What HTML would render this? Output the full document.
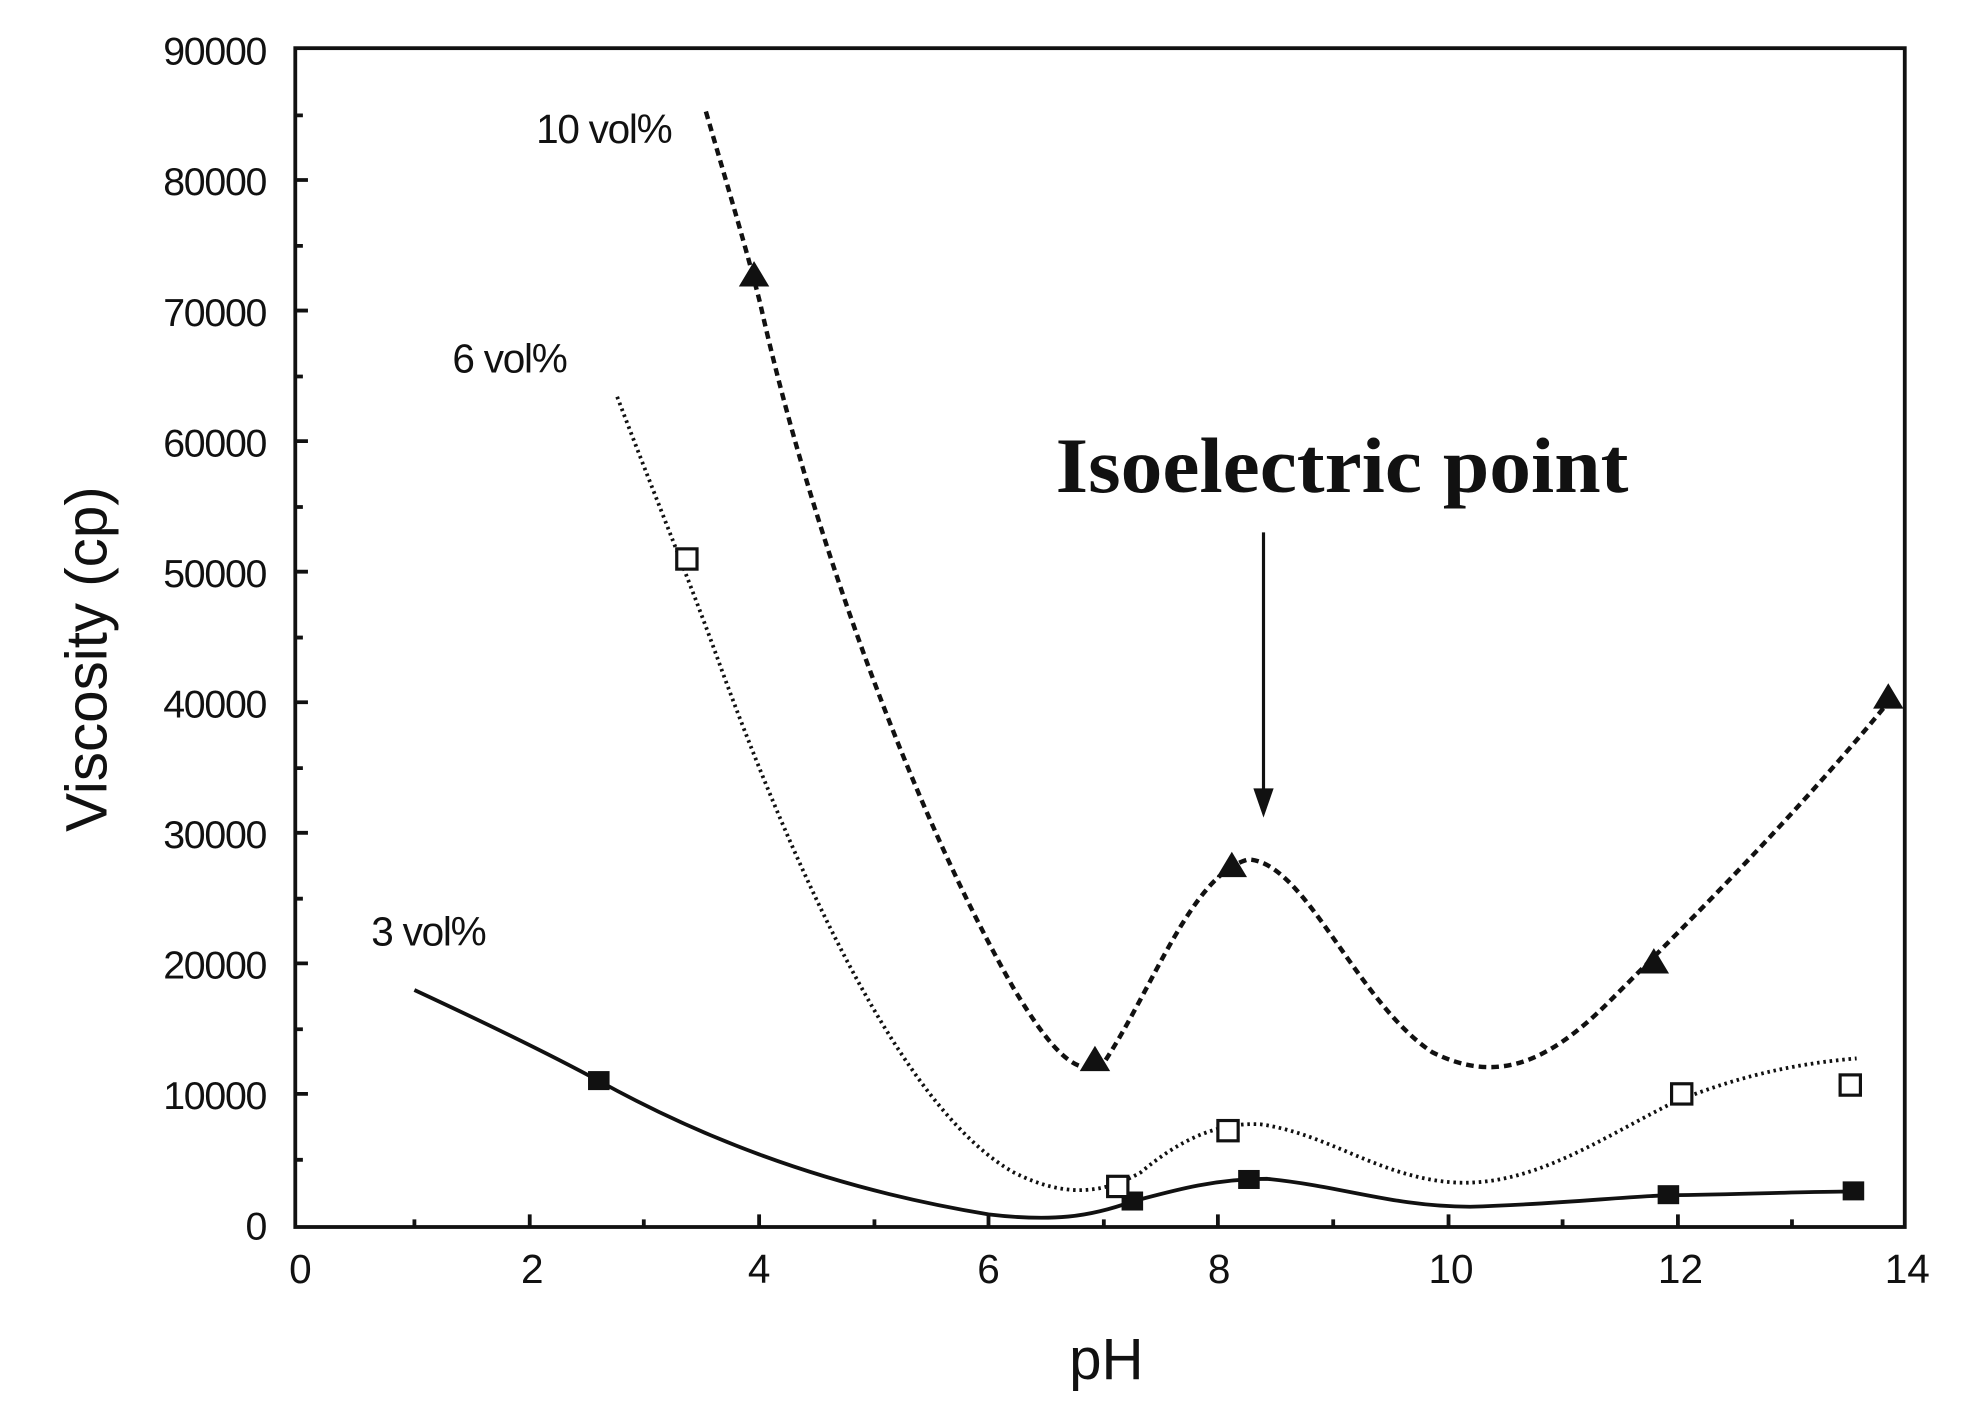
<!DOCTYPE html>
<html><head><style>html,body{margin:0;padding:0;background:#fff}svg{display:block}</style></head>
<body>
<svg width="1977" height="1407" viewBox="0 0 1560 1110" preserveAspectRatio="none" xmlns="http://www.w3.org/2000/svg" font-family="Liberation Sans, Arial, sans-serif">
<rect width="1560" height="1110" fill="#fff"/>
<rect x="233" y="38" width="1270" height="930" fill="none" stroke="#111" stroke-width="3"/>
<g fill="#111" font-size="31" text-anchor="end" letter-spacing="-1">
<text x="210" y="51">90000</text><text x="210" y="154">80000</text><text x="210" y="257">70000</text>
<text x="210" y="360">60000</text><text x="210" y="463">50000</text><text x="210" y="566">40000</text>
<text x="210" y="669">30000</text><text x="210" y="772">20000</text><text x="210" y="875">10000</text>
<text x="210" y="978">0</text>
</g>
<g stroke="#111" stroke-width="3">
<path d="M233 142h10M233 245h10M233 348h10M233 451h10M233 554h10M233 657h10M233 760h10M233 863h10M233 91h6M233 194h6M233 297h6M233 400h6M233 503h6M233 606h6M233 709h6M233 812h6M233 915h6"/>
<path d="M418 968v-10M599 968v-10M780 968v-10M961 968v-10M1143 968v-10M1324 968v-10M327 968v-6M508 968v-6M690 968v-6M871 968v-6M1052 968v-6M1233 968v-6M1414 968v-6"/>
</g>
<g fill="#111" font-size="32" text-anchor="middle">
<text x="237" y="1012">0</text><text x="420" y="1012">2</text><text x="599" y="1012">4</text><text x="780" y="1012">6</text>
<text x="962" y="1012">8</text><text x="1145" y="1012">10</text><text x="1326" y="1012">12</text><text x="1505" y="1012">14</text>
</g>
<text x="873" y="1088" font-size="46" text-anchor="middle" fill="#111">pH</text>
<text transform="translate(84,520) rotate(-90)" font-size="46" text-anchor="middle" fill="#111">Viscosity (cp)</text>
<g font-size="32" fill="#111" letter-spacing="-1">
<text x="423" y="113">10 vol%</text><text x="357" y="294">6 vol%</text><text x="293" y="746">3 vol%</text>
</g>
<text x="833" y="388" font-family="Liberation Serif, serif" font-weight="bold" font-size="62" textLength="452" lengthAdjust="spacingAndGlyphs" fill="#111">Isoelectric point</text>
<line x1="997" y1="420" x2="997" y2="630" stroke="#111" stroke-width="2.5"/>
<path d="M989 622 L997 645 L1005 622 Z" fill="#111"/>
<g fill="none" stroke="#111">
<path d="M557 88 C575 150 590 200 600 240 C640 420 720 640 800 780 C830 830 850 850 870 840 C910 780 940 690 985 678 C1030 680 1070 790 1130 830 C1180 855 1220 840 1270 790 C1340 720 1420 640 1495 548" stroke-width="3.5" stroke-dasharray="6,4"/>
<path d="M487 313 C520 400 545 460 570 530 C640 720 720 880 800 925 C840 945 870 942 900 925 C930 900 960 885 995 887 C1050 895 1090 930 1150 933 C1210 935 1260 900 1320 870 C1380 845 1430 838 1465 835" stroke-width="3" stroke-dasharray="2,3"/>
<path d="M327 781 C400 815 440 835 473 853 C540 890 640 935 780 958 C830 964 860 960 893 948 C930 938 960 930 1000 930 C1060 936 1100 952 1160 952 C1230 950 1280 944 1316 943 C1380 942 1430 940 1462 940" stroke-width="3"/>
</g>
<g fill="#111">
<path d="M595 206 L607 226 L583 226Z"/><path d="M864 825 L876 845 L852 845Z"/><path d="M972 672 L984 692 L960 692Z"/>
<path d="M1305 748 L1317 768 L1293 768Z"/><path d="M1490 539 L1502 559 L1478 559Z"/>
<rect x="464" y="845" width="17" height="15"/><rect x="885" y="940" width="17" height="15"/><rect x="977" y="923" width="17" height="15"/>
<rect x="1308" y="935" width="17" height="15"/><rect x="1454" y="932" width="17" height="15"/>
</g>
<g fill="#fff" stroke="#111" stroke-width="2.5">
<rect x="534" y="433" width="16" height="16"/><rect x="874" y="928" width="16" height="16"/><rect x="961" y="884" width="16" height="16"/>
<rect x="1319" y="855" width="16" height="16"/><rect x="1452" y="848" width="16" height="16"/>
</g>
</svg>
</body></html>
